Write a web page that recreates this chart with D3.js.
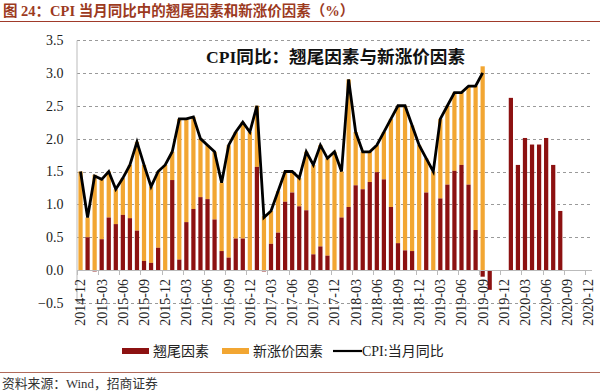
<!DOCTYPE html>
<html>
<head>
<meta charset="utf-8">
<script src="https://cdn.jsdelivr.net/npm/d3@7"></script>
<style>
  body { margin: 0; background: #fff; }
  svg { display: block; }
</style>
</head>
<body>
<div id="chart"></div>
<script>
// month categories 2014-12 .. 2020-12
var months = ['2014-12'];
for (var yr = 2015; yr <= 2020; yr++) {
  for (var m = 1; m <= 12; m++) {
    months.push(yr + '-' + (m < 10 ? '0' + m : m));
  }
}

// 翘尾因素 (null = no bar)
var tailValues = [
  0,
  0.5, -0.02, 0.47, 0.8, 0.7, 0.84, 0.79, 0.6, 0.14, 0.11, 0.34, 0,
  1.37, 0.16, 0.73, 0.93, 1.11, 1.08, 0.77, 0.29, 0.19, 0.48, 0.48, 0,
  1.57, -0.02, 0.4, 0.57, 1.04, 1.18, 0.97, 0.91, 0.24, 0.36, 0.22, 0,
  0.8, 0.96, 1.29, 1.23, 1.34, 1.49, 1.38, 0.96, 0.41, 0.3, 0.29, 0,
  1.18, 0, 1.09, 1.3, 1.51, 1.6, 1.3, 0.61, -0.1, -0.3, null, null,
  2.62, 1.6, 2.01, 1.91, 1.91, 2.01, 1.6, 0.9, null, null, null, null
];

// 新涨价因素 (to 2019-09)
var newPriceValues = [
  1.5,
  0.3, 1.45, 0.91, 0.7, 0.53, 0.56, 0.81, 1.35, 1.46, 1.16, 1.16, 1.6,
  0.43, 2.14, 1.57, 1.4, 0.89, 0.82, 1.03, 1.04, 1.71, 1.62, 1.77, 2.1,
  0.93, 0.82, 0.5, 0.63, 0.46, 0.32, 0.43, 0.89, 1.36, 1.54, 1.48, 1.8,
  0.7, 1.94, 0.81, 0.57, 0.46, 0.41, 0.72, 1.34, 2.09, 2.2, 1.91, 1.9,
  0.52, 1.5, 1.21, 1.2, 1.19, 1.1, 1.5, 2.19, 3.1
];

// CPI:当月同比 (to 2019-09)
var cpiValues = [
  1.5,
  0.8, 1.43, 1.38, 1.5, 1.23, 1.4, 1.6, 1.95, 1.6, 1.27, 1.5, 1.6,
  1.8, 2.3, 2.3, 2.33, 2.0, 1.9, 1.8, 1.33, 1.9, 2.1, 2.25, 2.1,
  2.5, 0.8, 0.9, 1.2, 1.5, 1.5, 1.4, 1.8, 1.6, 1.9, 1.7, 1.8,
  1.5, 2.9, 2.1, 1.8, 1.8, 1.9, 2.1, 2.3, 2.5, 2.5, 2.2, 1.9,
  1.7, 1.5, 2.3, 2.5, 2.7, 2.7, 2.8, 2.8, 3.0
];

var yTicks = [-0.5, 0, 0.5, 1.0, 1.5, 2.0, 2.5, 3.0, 3.5];

var seriesNames = ['翘尾因素', '新涨价因素', 'CPI:当月同比'];
var RED = '#8c1111', ORANGE = '#f2a632';
var serif = '"Liberation Serif", "Noto Sans CJK SC", serif';

var width = 600, height = 391;
var svg = d3.select('#chart').append('svg')
  .attr('width', width)
  .attr('height', height);

// page title + rules
svg.append('text')
  .attr('x', 3).attr('y', 16)
  .attr('font-family', serif)
  .attr('font-size', 14.5)
  .attr('font-weight', 'bold')
  .attr('fill', '#9c3a1e')
  .text('图 24：CPI 当月同比中的翘尾因素和新涨价因素（%）');
svg.append('line')
  .attr('x1', 0).attr('x2', width).attr('y1', 21.5).attr('y2', 21.5)
  .attr('stroke', '#a03a2a').attr('stroke-width', 1);
svg.append('line')
  .attr('x1', 0).attr('x2', width).attr('y1', 372.5).attr('y2', 372.5)
  .attr('stroke', '#b06a5a').attr('stroke-width', 1);
svg.append('text')
  .attr('x', 2).attr('y', 388)
  .attr('font-family', serif)
  .attr('font-size', 12.8)
  .attr('fill', '#333')
  .text('资料来源：Wind，招商证券');

var x = d3.scaleBand()
  .domain(months)
  .range([77, 592])
  .paddingInner(0.4)
  .paddingOuter(0.2);
var y = d3.scaleLinear().domain([-0.5, 3.5]).range([303, 40]);
var bw = x.bandwidth();
var step = x.step();

// grid
svg.append('g').selectAll('line')
  .data(yTicks.filter(function(t) { return t !== 0; }))
  .enter().append('line')
  .attr('x1', 77).attr('x2', 592)
  .attr('y1', function(d) { return Math.round(y(d)) + 0.5; })
  .attr('y2', function(d) { return Math.round(y(d)) + 0.5; })
  .attr('stroke', '#9a9a9a')
  .attr('stroke-dasharray', '3,3');

// y axis
var yAxis = svg.append('g')
  .attr('transform', 'translate(76.5,0)')
  .call(d3.axisLeft(y).tickValues(yTicks).tickSize(0).tickPadding(13)
    .tickFormat(d3.format('.1f')));
yAxis.select('.domain').attr('stroke', '#bbb');
yAxis.selectAll('text')
  .attr('font-family', serif)
  .attr('font-size', 14)
  .attr('fill', '#222');

// bars
var rows = months.map(function(mo, i) {
  return { month: mo, tail: tailValues[i], np: i < newPriceValues.length ? newPriceValues[i] : null };
});

svg.append('g').selectAll('rect')
  .data(rows.filter(function(d) { return d.np !== null; }))
  .enter().append('rect')
  .attr('x', function(d) { return x(d.month); })
  .attr('width', bw)
  .attr('y', function(d) {
    var base = d.tail > 0 ? d.tail : 0;
    return y(base + d.np);
  })
  .attr('height', function(d) {
    var base = d.tail > 0 ? d.tail : 0;
    return y(base) - y(base + d.np);
  })
  .attr('fill', ORANGE);

svg.append('g').selectAll('rect')
  .data(rows.filter(function(d) { return d.tail !== null && d.tail !== 0; }))
  .enter().append('rect')
  .attr('x', function(d) { return x(d.month); })
  .attr('width', bw)
  .attr('y', function(d) { return y(Math.max(0, d.tail)); })
  .attr('height', function(d) { return Math.abs(y(0) - y(d.tail)); })
  .attr('fill', RED);

// x axis at zero
var xg = svg.append('g');
xg.append('line')
  .attr('x1', 77).attr('x2', 592)
  .attr('y1', Math.round(y(0)) + 0.5).attr('y2', Math.round(y(0)) + 0.5)
  .attr('stroke', '#bbb');
var labelled = months.filter(function(d, i) { return i % 3 === 0; });
xg.selectAll('line.tick')
  .data(labelled)
  .enter().append('line')
  .attr('class', 'tick')
  .attr('x1', function(d) { return Math.round(x(d) - step * 0.2) + 0.5; })
  .attr('x2', function(d) { return Math.round(x(d) - step * 0.2) + 0.5; })
  .attr('y1', Math.round(y(0))).attr('y2', Math.round(y(0)) + 5)
  .attr('stroke', '#bbb');
xg.selectAll('text')
  .data(labelled)
  .enter().append('text')
  .attr('transform', function(d) {
    return 'translate(' + (x(d) + bw / 2) + ',279) rotate(-90)';
  })
  .attr('dy', '0.35em')
  .attr('text-anchor', 'end')
  .attr('font-family', serif)
  .attr('font-size', 14)
  .attr('fill', '#222')
  .text(function(d) { return d; });

// CPI line
var line = d3.line()
  .x(function(d, i) { return x(months[i]) + bw / 2; })
  .y(function(d) { return y(d); });
svg.append('path')
  .datum(cpiValues)
  .attr('d', line)
  .attr('fill', 'none')
  .attr('stroke', '#000')
  .attr('stroke-width', 2.8)
  .attr('stroke-linejoin', 'miter');

// inner title
svg.append('text')
  .attr('x', 206).attr('y', 63)
  .attr('font-family', serif)
  .attr('font-size', 17.6)
  .attr('font-weight', 'bold')
  .attr('fill', '#111')
  .text('CPI同比：翘尾因素与新涨价因素');

// legend
var legend = svg.append('g').attr('transform', 'translate(0,351)');
var legendX = [122, 222, 333];
seriesNames.forEach(function(name, i) {
  var g = legend.append('g').attr('transform', 'translate(' + legendX[i] + ',0)');
  if (i < 2) {
    g.append('rect').attr('x', 0).attr('y', -3).attr('width', 27).attr('height', 6)
      .attr('fill', i === 0 ? RED : ORANGE);
  } else {
    g.append('line').attr('x1', 0).attr('x2', 29).attr('y1', 0).attr('y2', 0)
      .attr('stroke', '#000').attr('stroke-width', 2.2);
  }
  g.append('text')
    .attr('x', i < 2 ? 31 : 29).attr('y', 0).attr('dy', '0.35em')
    .attr('font-family', serif)
    .attr('font-size', 14)
    .attr('fill', '#222')
    .text(name);
});
</script>
</body>
</html>
